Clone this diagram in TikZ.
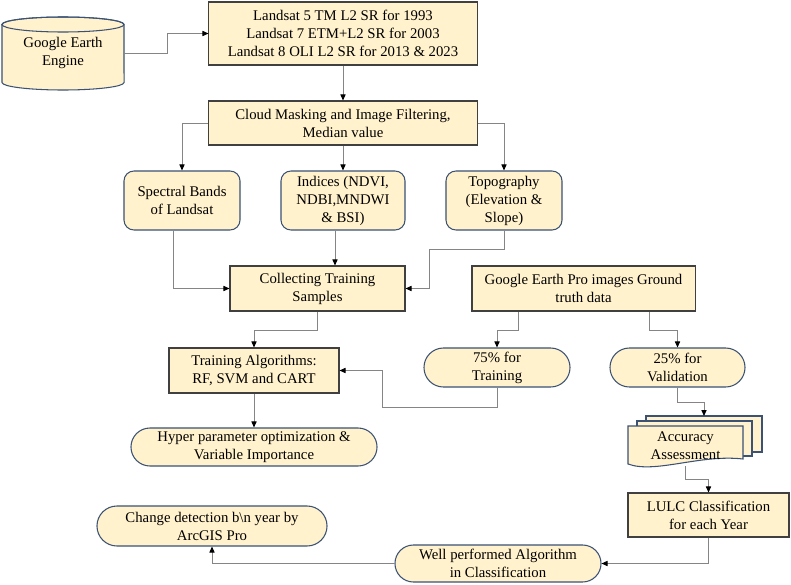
\documentclass[tikz,border=0pt]{standalone}
\usepackage{fontspec}
\setmainfont{Liberation Serif}
\newfontfamily\fuenteflujo{Liberation Serif}
\usepackage{xcolor}
\definecolor{flow-fill}{HTML}{FFF2CC}
\definecolor{flow-edge}{HTML}{404040}
\definecolor{flow-blue}{HTML}{3B5275}
\definecolor{flow-line}{HTML}{858585}
\usepackage{tikz}
\usetikzlibrary{arrows.meta,calc,shapes.misc}

\tikzset{
  caja/.style={draw=flow-edge, fill=flow-fill, line width=0.75pt, align=center,
    inner sep=0pt, font=\fuenteflujo\fontsize{10.5}{12.8}\selectfont},
  redondo/.style={caja, draw=flow-blue, rounded corners=2.5mm},
  terminal/.style={caja, draw=flow-blue, rounded rectangle},
  texto/.style={align=center, inner sep=0pt, font=\fuenteflujo\fontsize{10.5}{12.8}\selectfont},
  flecha/.style={draw=flow-line, line width=0.7pt,
    -{Triangle[length=1.5mm,width=1.3mm,color=black]}},
}

\begin{document}
\begin{tikzpicture}[x=0.025cm, y=-0.025cm]

    % Fondo
    \fill[white] (0,0) rectangle (791,585);
    \useasboundingbox (0,0) rectangle (791,585);

% Cilindro
\draw[fill=flow-fill, draw=flow-blue, line width=0.75pt]
  (2,24.5) -- (2,82.5)
  arc[start angle=180, end angle=360, x radius=15.25mm, y radius=1.875mm]
  -- (124,24.5)
  arc[start angle=0, end angle=180, x radius=15.25mm, y radius=1.875mm] -- cycle;
\draw[draw=flow-blue, line width=0.75pt] (63,24.5) ellipse [x radius=15.25mm, y radius=1.875mm];
\node[texto, minimum width=3.05cm, minimum height=1.825cm] (gee) at (63,53) {Google Earth\\Engine};

% Documentos
\draw[fill=flow-fill, draw=flow-blue, line width=0.75pt] (646,416) rectangle (762,452);
\draw[fill=flow-fill, draw=flow-blue, line width=0.75pt] (637,421) rectangle (752,456);
\draw[fill=flow-fill, draw=flow-blue, line width=0.75pt]
  (628,426) -- (628,464)
  .. controls (655,474) and (700,454) .. (743,459)
  -- (743,426) -- cycle;
\coordinate (accb) at (704,416);
\node[texto, minimum width=2.875cm, minimum height=1cm] (acc) at (685.5,446) {Accuracy\\Assessment};

% Cajas
\node[caja, minimum width=6.7cm, minimum height=1.575cm] (landsat) at (343,33.5)
  {Landsat 5 TM L2 SR for 1993\\Landsat 7 ETM+L2 SR for 2003\\Landsat 8 OLI L2 SR for 2013 \& 2023};
\node[caja, minimum width=6.7cm, minimum height=1.1cm] (cloud) at (343,123)
  {Cloud Masking and Image Filtering,\\Median value};
\node[redondo, minimum width=2.9cm, minimum height=1.475cm] (spectral) at (182,200.5)
  {Spectral Bands\\of Landsat};
\node[redondo, minimum width=3.1cm, minimum height=1.475cm] (indices) at (343,200.5)
  {Indices (NDVI,\\NDBI,MNDWI\\\& BSI)};
\node[redondo, minimum width=2.9cm, minimum height=1.475cm] (topo) at (504,200.5)
  {Topography\\(Elevation \&\\Slope)};
\node[caja, minimum width=4.375cm, minimum height=1.125cm] (collect) at (317.5,288.5)
  {Collecting Training\\Samples};
\node[caja, minimum width=5.575cm, minimum height=1.125cm] (gep) at (583.5,288.5)
  {Google Earth Pro images Ground\\truth data};
\node[caja, minimum width=4.25cm, minimum height=1.125cm] (train) at (254,370.5)
  {Training Algorithms:\\RF, SVM and CART};
\node[terminal, minimum width=3.65cm, minimum height=0.975cm] (p75) at (497,367.5)
  {75\% for\\Training};
\node[terminal, minimum width=3.375cm, minimum height=0.975cm] (p25) at (677.5,367.5)
  {25\% for\\Validation};
\node[terminal, minimum width=6.15cm, minimum height=0.95cm] (hyper) at (254,447)
  {Hyper parameter optimization \&\\Variable Importance};
\node[caja, minimum width=4.025cm, minimum height=1.1cm] (lulc) at (708.5,515)
  {LULC Classification\\for each Year};
\node[terminal, minimum width=5.15cm, minimum height=0.925cm] (well) at (498,563.5)
  {Well performed Algorithm\\in Classification};
\node[terminal, minimum width=5.75cm, minimum height=1cm] (change) at (212,526)
  {Change detection b\textbackslash n year by\\ArcGIS Pro};

% Flechas
\draw[flecha] (gee.east) -- ++(43,0) |- (landsat.west);
\draw[flecha] (landsat.south) -- (cloud.north);
\draw[flecha] (cloud.west) -| (spectral.north);
\draw[flecha] (cloud.south) -- (indices.north);
\draw[flecha] (cloud.east) -| (topo.north);
\draw[flecha] ($(spectral.south)+(-9,0)$) |- (collect.west);
\draw[flecha] ($(indices.south)+(-8,0)$) -- ($(indices.south |- collect.north)+(-8,0)$);
\draw[flecha] (topo.south) -- ++(0,19) -| ($(collect.east)+(24,0)$) -- (collect.east);
\draw[flecha] (collect.south) -- ++(0,19) -| (train.north);
\draw[flecha] ($(gep.south)+(-65,0)$) -- ++(0,19) -| (p75.north);
\draw[flecha] ($(gep.south)+(66,0)$) -- ++(0,19) -| (p25.north);
\draw[flecha] (p75.south) -- ++(0,20) -| ($(train.east)+(43,0)$) -- (train.east);
\draw[flecha] (train.south) -- (hyper.north);
\draw[flecha] (p25.south) -- ++(0,15) -| (accb);
\draw[flecha] (acc.south) -- ++(0,13) -| (lulc.north);
\draw[flecha] (lulc.south) |- (well.east);
\draw[flecha] (well.west) -| (change.south);

\end{tikzpicture}
\end{document}
